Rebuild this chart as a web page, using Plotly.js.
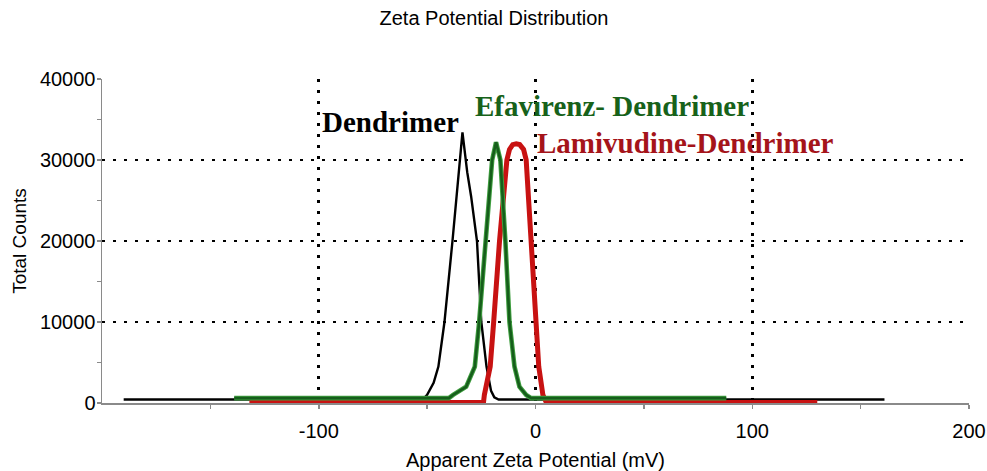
<!DOCTYPE html>
<html>
<head>
<meta charset="utf-8">
<script src="https://cdn.plot.ly/plotly-3.0.1.min.js"></script>
<style>
  html, body { margin: 0; padding: 0; background: #ffffff; }
  #chart { width: 987px; height: 471px; }
</style>
</head>
<body>
<div id="chart"></div>
<script>
// Zeta potential distributions (apparent zeta potential in mV vs total counts)
const dendrimerX = [-190, -52, -50, -47, -44.8, -42, -38.3, -36, -33.7, -31.5, -29.7, -27, -25, -22.6, -20.5, -19, -17, 161];
const dendrimerY = [430, 430, 1000, 2500, 4500, 10000, 20000, 27000, 33400, 28500, 25500, 20000, 10000, 4500, 1500, 700, 430, 430];

const efavirenzX = [-139, -40, -38, -32, -28, -26, -23, -20, -18.2, -16.2, -13.9, -12, -9.7, -7.4, -4.3, -2, 88];
const efavirenzY = [600, 600, 1000, 2000, 4500, 10000, 20000, 30000, 32200, 30000, 20000, 10000, 4500, 2000, 1000, 600, 600];

const lamivudineX = [-132, -24, -23.6, -20.9, -19.3, -16.6, -13.2, -12, -10.5, -8.9, -7.3, -5.5, -4.3, -2, 0, 1.5, 3.4, 5, 130];
const lamivudineY = [60, 60, 1000, 4500, 10000, 20000, 30000, 31300, 31900, 32000, 31900, 31300, 30000, 20000, 10000, 4500, 1000, 60, 60];

const xTicks = [-100, 0, 100, 200];
const yTicks = [0, 10000, 20000, 30000, 40000];

const seriesLabels = ['Dendrimer', 'Efavirenz- Dendrimer', 'Lamivudine-Dendrimer'];
// label anchor positions in data units (centre of each label)
const labelX = [-67, 35.5, 69];
const labelY = [34700, 36700, 32100];
const labelColors = ['#000000', '#17621a', '#a5141a'];

const traces = [
  { x: dendrimerX, y: dendrimerY, mode: 'lines', line: { color: '#000000', width: 2.4 }, hoverinfo: 'skip' },
  { x: lamivudineX, y: lamivudineY, mode: 'lines', line: { color: '#c81212', width: 5 }, hoverinfo: 'skip' },
  { x: efavirenzX, y: efavirenzY, mode: 'lines', line: { color: '#3f9e3f', width: 4.6 }, hoverinfo: 'skip' },
  { x: efavirenzX, y: efavirenzY, mode: 'lines', line: { color: '#165e1b', width: 2.6 }, hoverinfo: 'skip' }
];

const sansFont = { family: 'Liberation Sans, Arial, sans-serif', color: '#000000' };

const layout = {
  width: 987,
  height: 471,
  margin: { l: 102, r: 18, t: 79, b: 68 },
  paper_bgcolor: '#ffffff',
  plot_bgcolor: '#ffffff',
  showlegend: false,
  title: {
    text: 'Zeta Potential Distribution',
    font: Object.assign({ size: 20 }, sansFont),
    x: 494 / 987, xref: 'container', xanchor: 'center',
    y: 1 - 18 / 471, yref: 'container', yanchor: 'middle'
  },
  xaxis: {
    range: [-200, 200],
    tickvals: xTicks,
    ticktext: xTicks.map(String),
    tickfont: Object.assign({ size: 20 }, sansFont),
    ticks: 'outside', ticklen: 4, tickwidth: 1.5, tickcolor: '#8a8a8a',
    minor: { tickvals: [-150, -50, 50, 150], ticks: 'outside', ticklen: 4, tickwidth: 1.5, tickcolor: '#8a8a8a', showgrid: false },
    ticklabelstandoff: 5,
    showline: true, linecolor: '#8a8a8a', linewidth: 1.5,
    showgrid: true, gridcolor: '#000000', gridwidth: 2.6, griddash: '2.6px,8.4px',
    zeroline: false,
    title: { text: 'Apparent Zeta Potential (mV)', font: Object.assign({ size: 20 }, sansFont), standoff: 13 }
  },
  yaxis: {
    range: [0, 40000],
    tickvals: yTicks,
    ticktext: yTicks.map(String),
    tickfont: Object.assign({ size: 20 }, sansFont),
    ticks: 'outside', ticklen: 4, tickwidth: 1.5, tickcolor: '#8a8a8a',
    minor: { tickvals: [5000, 15000, 25000, 35000], ticks: 'outside', ticklen: 4, tickwidth: 1.5, tickcolor: '#8a8a8a', showgrid: false },
    ticklabelstandoff: -3,
    showline: true, linecolor: '#8a8a8a', linewidth: 1.5,
    showgrid: true, gridcolor: '#000000', gridwidth: 2.6, griddash: '2.6px,8.4px',
    zeroline: false,
    title: { text: 'Total Counts', font: Object.assign({ size: 19 }, sansFont), standoff: 8 }
  },
  annotations: seriesLabels.map((t, i) => ({
    text: t, x: labelX[i], y: labelY[i], xref: 'x', yref: 'y',
    showarrow: false, xanchor: 'center', yanchor: 'middle',
    font: { family: 'Liberation Serif, Times New Roman, serif', size: 29, color: labelColors[i], weight: 'bold' }
  }))
};

Plotly.newPlot('chart', traces, layout, { displayModeBar: false, staticPlot: true });
</script>
</body>
</html>
